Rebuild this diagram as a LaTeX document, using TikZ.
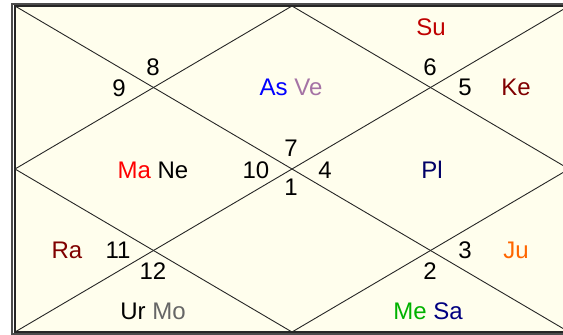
\documentclass[tikz,border=0pt]{standalone}
\usepackage{fontspec}
\setmainfont{Liberation Sans}

\begin{document}
\begin{tikzpicture}[x=1pt, y=1pt, font=\fontsize{24}{26}\selectfont,
		house/.style={inner sep=0pt, text depth=0pt},
		chartline/.style={line width=0.9pt, black!85}]
		
		% ==========================================
		% CANVAS & FRAME
		% ==========================================
		\useasboundingbox (0,0) rectangle (563,335);
		
		\colorlet{paper}{yellow!7}
		\colorlet{colAs}{blue}
		\definecolor{colVe}{RGB}{165,115,165}
		\colorlet{colSu}{red!75!black}
		\colorlet{colKe}{red!50!black}
		\colorlet{colMa}{red}
		\colorlet{colPl}{blue!40!black}
		\colorlet{colRa}{red!50!black}
		\colorlet{colMo}{black!60}
		\colorlet{colJu}{orange!80!red}
		\colorlet{colMe}{green!70!black}
		\colorlet{colSa}{blue!50!black}
		
		% Corners and midpoints of the chart
		\coordinate (tl) at (15,329);
		\coordinate (tr) at (569,329);
		\coordinate (bl) at (15,3);
		\coordinate (br) at (569,3);
		\coordinate (top) at (292,329);
		\coordinate (bot) at (292,3);
		\coordinate (lft) at (15,166);
		\coordinate (rgt) at (569,166);
		
		% Double frame
		\fill[paper] (tl) rectangle (br);
		\draw[line width=1.2pt, black!70] (12,331) rectangle (572,1);
		\draw[line width=1.2pt, black!85] (tl) rectangle (br);
		
		% ==========================================
		% DIAGONALS & DIAMOND
		% ==========================================
		\draw[chartline] (tl) -- (br);
		\draw[chartline] (bl) -- (tr);
		\draw[chartline] (top) -- (rgt) -- (bot) -- (lft) -- cycle;
		
		% ==========================================
		% HOUSE NUMBERS
		% ==========================================
		\foreach \num/\px/\py in {1/291/148, 2/430/64, 3/465/85, 4/325/165,
			5/465/248, 6/430/268, 7/291/187, 8/153/268, 9/119/247,
			10/256/165, 11/118/85, 12/153/64} {
			\node[house] (h\num) at (\px,\py) {\num};
		}
		
		% ==========================================
		% PLANETS
		% ==========================================
		\node[house] (asve) at (291,248) {\textcolor{colAs}{As} \textcolor{colVe}{Ve}};
		\node[house, text=colSu] (su) at (431,308) {Su};
		\node[house, text=colKe] (ke) at (516,248) {Ke};
		\node[house] (mane) at (153,165) {\textcolor{colMa}{Ma} Ne};
		\node[house, text=colPl] (pl) at (432,165) {Pl};
		\node[house, text=colRa] (ra) at (67,85) {Ra};
		\node[house, text=colJu] (ju) at (516,85) {Ju};
		\node[house] (urmo) at (153,24) {Ur \textcolor{colMo}{Mo}};
		\node[house] (mesa) at (428,24) {\textcolor{colMe}{Me} \textcolor{colSa}{Sa}};
		
	\end{tikzpicture}
\end{document}
